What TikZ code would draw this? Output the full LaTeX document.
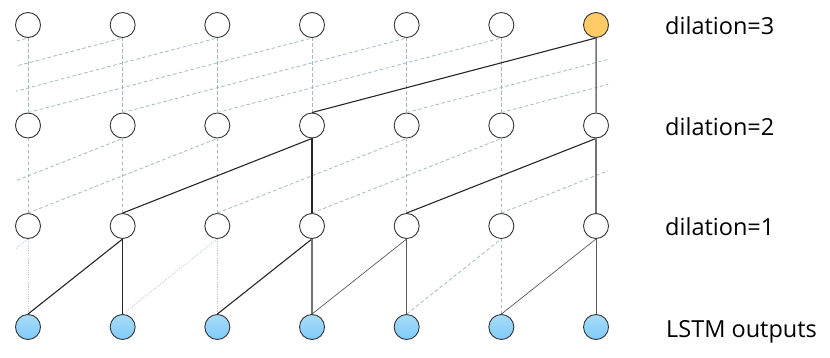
\documentclass[tikz,border=0pt]{standalone}
\usepackage{fontspec}
\newfontfamily\lblfont{Open Sans}
\usepackage{xcolor}
\usepackage{tikz}
\usetikzlibrary{positioning}
\definecolor{ringgray}{HTML}{333333}
\definecolor{lnkgray}{HTML}{A2B8C2}
\definecolor{dimlnkgray}{HTML}{BACCD3}
\definecolor{outtop}{HTML}{A8DCF8}
\definecolor{outbot}{HTML}{7FCAFB}
\definecolor{goldunit}{HTML}{FFCB66}
\tikzset{
  unit/.style={circle,draw=ringgray,line width=0.9pt,minimum size=25pt,inner sep=0pt,fill=white},
  outunit/.style={unit,top color=outtop,bottom color=outbot},
  topunit/.style={unit,fill=goldunit},
  lnk/.style={draw=lnkgray,line width=0.8pt,dash pattern=on 3.5pt off 2.5pt},
  dimlnk/.style={draw=dimlnkgray,line width=0.7pt,dash pattern=on 1.2pt off 1.2pt},
  hot/.style={draw=black!85,line width=1.1pt},
  midhot/.style={draw=black!55,line width=1.5pt},
  lowhot/.style={draw=black!65,line width=0.7pt},
  lbl/.style={font=\lblfont\fontsize{23.5}{28}\selectfont,anchor=base west,inner sep=0pt},
}

\begin{document}
\begin{tikzpicture}[x=1pt,y=1pt]
\useasboundingbox (0,0) rectangle (830,357);
% units
\foreach \i in {0,...,6}{
  \node[outunit] (o\i) at ({28+94.67*\i},30) {};
  \node[unit] (a\i) at ({28+94.67*\i},131) {};
  \node[unit] (b\i) at ({28+94.67*\i},231.5) {};
}
\foreach \i in {0,...,5}
  \node[unit] (c\i) at ({28+94.67*\i},332) {};
\node[topunit] (c6) at (596,332) {};
% ends outside the frame
\coordinate (o-1) at (-66.67,42.5);
\coordinate (b-1) at (-66.67,244);
\coordinate (b-2) at (-161.34,244);
\coordinate (b-3) at (-256,244);
\coordinate (b7) at (690.7,219);
\coordinate (c7) at (690.7,319.5);
\coordinate (c8) at (785.4,319.5);
\coordinate (a-1) at (-66.67,143.5);

\begin{scope}
\clip (16,0) rectangle (608,357);
% dilation=1
\draw[dimlnk] (o-1) -- (a0.south);
\draw[dimlnk] (o0.north) -- (a0.south);
\draw[dimlnk] (o2.north) -- (a2.south);
\draw[dimlnk] (o1.north) -- (a2.south);
\draw[lnk] (o5.north) -- (a5.south);
\draw[lnk] (o4.north) -- (a5.south);
\draw[hot] (o0.north) -- (a1.south);
\draw[hot] (o1.north) -- (a1.south);
\draw[hot] (o2.north) -- (a3.south);
\draw[midhot] (o3.north) -- (a3.south);
\draw[lowhot] (o3.north) -- (a4.south);
\draw[lowhot] (o4.north) -- (a4.south);
\draw[lowhot] (o5.north) -- (a6.south);
\draw[lowhot] (o6.north) -- (a6.south);
% dilation=2
\foreach \i in {0,1,2,4,5}
  \draw[lnk] (a\i.north) -- (b\i.south);
\foreach \i/\j in {0/2,2/4,3/5}
  \draw[lnk] (a\i.north) -- (b\j.south);
\draw[lnk] (a-1) -- (b1.south);
\draw[lnk] (a5.north) -- (b7);
\draw[hot] (a1.north) -- (b3.south);
\draw[hot] (a3.north) -- (b3.south);
\draw[hot] (a4.north) -- (b6.south);
\draw[midhot] (a6.north) -- (b6.south);
% dilation=3
\foreach \i in {0,...,5}
  \draw[lnk] (b\i.north) -- (c\i.south);
\foreach \i/\j in {0/3,1/4,2/5}
  \draw[lnk] (b\i.north) -- (c\j.south);
\draw[lnk] (b-3) -- (c0.south);
\draw[lnk] (b-2) -- (c1.south);
\draw[lnk] (b-1) -- (c2.south);
\draw[lnk] (b4.north) -- (c7);
\draw[lnk] (b5.north) -- (c8);
\draw[hot] (b3.north) -- (c6.south);
\draw[midhot] (b6.north) -- (c6.south);
\end{scope}

% row labels
\node[lbl] (d3) at (665,322) {dilation=3};
\node[lbl] (d2) at (665,222) {dilation=2};
\node[lbl] (d1) at (665,122) {dilation=1};
\node[lbl] (lstm) at (666,20) {LSTM outputs};
\end{tikzpicture}
\end{document}
